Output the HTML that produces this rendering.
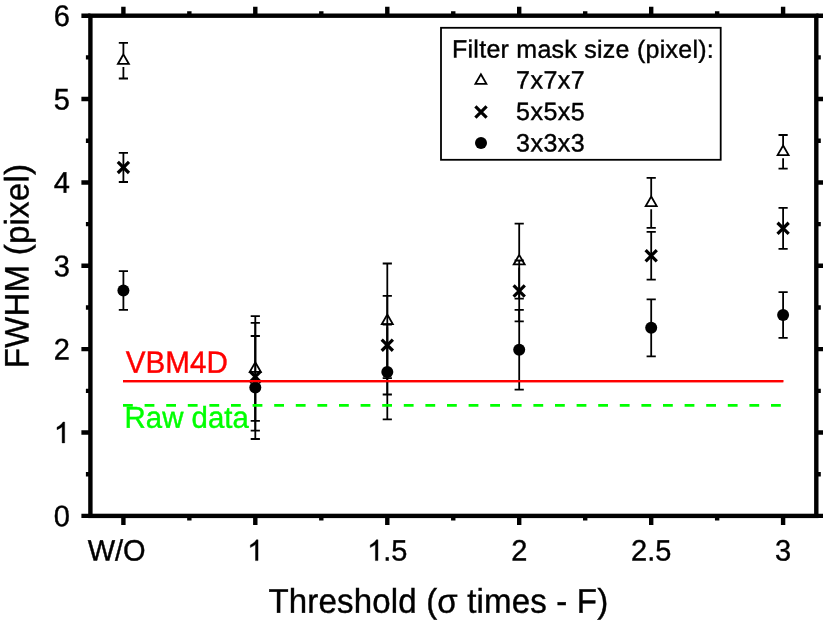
<!DOCTYPE html>
<html><head><meta charset="utf-8"><style>
html,body{margin:0;padding:0;background:#fff;width:823px;height:624px;overflow:hidden}
svg{display:block;will-change:transform}
text{font-family:"Liberation Sans",sans-serif;fill:#000}
</style></head><body>
<svg width="823" height="624" viewBox="0 0 823 624">
<rect width="823" height="624" fill="#fff"/>
<rect x="90.4" y="15.7" width="725.90" height="500.20" fill="none" stroke="#000" stroke-width="4.4"/>
<path d="M123.40,15.70 V6.70 M123.40,515.90 V524.90 M189.35,15.70 V11.20 M189.35,515.90 V520.40 M255.30,15.70 V6.70 M255.30,515.90 V524.90 M321.30,15.70 V11.20 M321.30,515.90 V520.40 M387.30,15.70 V6.70 M387.30,515.90 V524.90 M453.25,15.70 V11.20 M453.25,515.90 V520.40 M519.20,15.70 V6.70 M519.20,515.90 V524.90 M585.20,15.70 V11.20 M585.20,515.90 V520.40 M651.20,15.70 V6.70 M651.20,515.90 V524.90 M717.15,15.70 V11.20 M717.15,515.90 V520.40 M783.10,15.70 V6.70 M783.10,515.90 V524.90 M90.40,515.90 H81.40 M816.30,515.90 H825.30 M90.40,474.22 H85.90 M816.30,474.22 H820.80 M90.40,432.53 H81.40 M816.30,432.53 H825.30 M90.40,390.85 H85.90 M816.30,390.85 H820.80 M90.40,349.17 H81.40 M816.30,349.17 H825.30 M90.40,307.48 H85.90 M816.30,307.48 H820.80 M90.40,265.80 H81.40 M816.30,265.80 H825.30 M90.40,224.12 H85.90 M816.30,224.12 H820.80 M90.40,182.43 H81.40 M816.30,182.43 H825.30 M90.40,140.75 H85.90 M816.30,140.75 H820.80 M90.40,99.07 H81.40 M816.30,99.07 H825.30 M90.40,57.38 H85.90 M816.30,57.38 H820.80 M90.40,15.70 H81.40 M816.30,15.70 H825.30" stroke="#000" stroke-width="4.4" fill="none"/>
<path d="M123.0,381.2 H783.3" stroke="#f00" stroke-width="2.2" fill="none"/>
<text transform="translate(70.00,526.25) rotate(0.03) scale(1,1.03)" font-size="29" text-anchor="end" style="fill:#000;stroke:#000;stroke-width:0.4">0</text>
<path transform="translate(53.87,442.88) scale(0.01416,-0.01416)" d="M763,0 L583,0 L583,1147 Q518,1085 412,1023 Q306,961 222,930 L222,1104 Q373,1175 486,1276 Q599,1377 646,1472 L763,1472 Z" style="fill:#000;stroke:#000;stroke-width:28.2"/>
<text transform="translate(70.00,359.52) rotate(0.03) scale(1,1.03)" font-size="29" text-anchor="end" style="fill:#000;stroke:#000;stroke-width:0.4">2</text>
<text transform="translate(70.00,276.15) rotate(0.03) scale(1,1.03)" font-size="29" text-anchor="end" style="fill:#000;stroke:#000;stroke-width:0.4">3</text>
<text transform="translate(70.00,192.78) rotate(0.03) scale(1,1.03)" font-size="29" text-anchor="end" style="fill:#000;stroke:#000;stroke-width:0.4">4</text>
<text transform="translate(70.00,109.42) rotate(0.03) scale(1,1.03)" font-size="29" text-anchor="end" style="fill:#000;stroke:#000;stroke-width:0.4">5</text>
<text transform="translate(70.00,26.05) rotate(0.03) scale(1,1.03)" font-size="29" text-anchor="end" style="fill:#000;stroke:#000;stroke-width:0.4">6</text>
<text transform="translate(87.70,560.60) rotate(0.03) scale(1,1.015)" font-size="29" style="fill:#000;stroke:#000;stroke-width:0.4">W/O</text>
<path transform="translate(247.24,560.60) scale(0.01416,-0.01416)" d="M763,0 L583,0 L583,1147 Q518,1085 412,1023 Q306,961 222,930 L222,1104 Q373,1175 486,1276 Q599,1377 646,1472 L763,1472 Z" style="fill:#000;stroke:#000;stroke-width:28.2"/>
<path transform="translate(367.14,560.60) scale(0.01416,-0.01416)" d="M763,0 L583,0 L583,1147 Q518,1085 412,1023 Q306,961 222,930 L222,1104 Q373,1175 486,1276 Q599,1377 646,1472 L763,1472 Z" style="fill:#000;stroke:#000;stroke-width:28.2"/>
<text transform="translate(383.27,560.60) rotate(0.03) scale(1,1.015)" font-size="29" style="fill:#000;stroke:#000;stroke-width:0.4">.5</text>
<text transform="translate(519.20,560.60) rotate(0.03) scale(1,1.015)" font-size="29" text-anchor="middle" style="fill:#000;stroke:#000;stroke-width:0.4">2</text>
<text transform="translate(651.20,560.60) rotate(0.03) scale(1,1.015)" font-size="29" text-anchor="middle" style="fill:#000;stroke:#000;stroke-width:0.4">2.5</text>
<text transform="translate(783.10,560.60) rotate(0.03) scale(1,1.015)" font-size="29" text-anchor="middle" style="fill:#000;stroke:#000;stroke-width:0.4">3</text>
<text transform="translate(268.50,612.70) rotate(0.03) scale(1,1.04)" font-size="33" textLength="339.7" lengthAdjust="spacing" style="fill:#000;stroke:#000;stroke-width:0.4">Threshold (&#963; times - F)</text>
<text transform="translate(28.50,368.30) rotate(-89.97) scale(1,1.03)" font-size="33" textLength="204.3" lengthAdjust="spacing" style="fill:#000;stroke:#000;stroke-width:0.4">FWHM (pixel)</text>
<text transform="translate(125.80,372.70) rotate(0.03) scale(1,1.04)" font-size="29.6" style="fill:#f00;stroke:#f00;stroke-width:0.4">VBM4D</text>
<text transform="translate(124.60,427.80) rotate(0.03) scale(1,1.025)" font-size="29.4" style="fill:#0f0;stroke:#0f0;stroke-width:0.4">Raw data</text>
<path d="M123.40,42.80 V54.25 M123.40,67.05 V78.50" stroke="#000" stroke-width="1.8" fill="none"/><path d="M118.80,42.80 H128.00 M118.80,78.50 H128.00" stroke="#000" stroke-width="1.8" fill="none"/>
<path d="M123.40,54.35 L128.90,63.95 L117.90,63.95 Z" fill="#fff" stroke="#000" stroke-width="1.8"/>
<path d="M255.30,316.20 V362.10 M255.30,374.90 V420.80" stroke="#000" stroke-width="1.8" fill="none"/><path d="M250.70,316.20 H259.90 M250.70,420.80 H259.90" stroke="#000" stroke-width="1.8" fill="none"/>
<path d="M255.30,362.20 L260.80,371.80 L249.80,371.80 Z" fill="#fff" stroke="#000" stroke-width="1.8"/>
<path d="M387.30,263.50 V314.45 M387.30,327.25 V378.20" stroke="#000" stroke-width="1.8" fill="none"/><path d="M382.70,263.50 H391.90 M382.70,378.20 H391.90" stroke="#000" stroke-width="1.8" fill="none"/>
<path d="M387.30,314.55 L392.80,324.15 L381.80,324.15 Z" fill="#fff" stroke="#000" stroke-width="1.8"/>
<path d="M519.20,223.70 V254.75 M519.20,267.55 V298.60" stroke="#000" stroke-width="1.8" fill="none"/><path d="M514.60,223.70 H523.80 M514.60,298.60 H523.80" stroke="#000" stroke-width="1.8" fill="none"/>
<path d="M519.20,254.85 L524.70,264.45 L513.70,264.45 Z" fill="#fff" stroke="#000" stroke-width="1.8"/>
<path d="M651.20,177.80 V196.40 M651.20,209.20 V227.80" stroke="#000" stroke-width="1.8" fill="none"/><path d="M646.60,177.80 H655.80 M646.60,227.80 H655.80" stroke="#000" stroke-width="1.8" fill="none"/>
<path d="M651.20,196.50 L656.70,206.10 L645.70,206.10 Z" fill="#fff" stroke="#000" stroke-width="1.8"/>
<path d="M783.10,135.00 V145.45 M783.10,158.25 V168.70" stroke="#000" stroke-width="1.8" fill="none"/><path d="M778.50,135.00 H787.70 M778.50,168.70 H787.70" stroke="#000" stroke-width="1.8" fill="none"/>
<path d="M783.10,145.55 L788.60,155.15 L777.60,155.15 Z" fill="#fff" stroke="#000" stroke-width="1.8"/>
<path d="M123.40,152.80 V182.00" stroke="#000" stroke-width="1.8" fill="none"/><path d="M118.80,152.80 H128.00 M118.80,182.00 H128.00" stroke="#000" stroke-width="1.8" fill="none"/>
<path d="M117.80,161.80 L129.00,173.00 M129.00,161.80 L117.80,173.00" stroke="#000" stroke-width="3.2" fill="none"/>
<path d="M255.30,322.90 V430.60" stroke="#000" stroke-width="1.8" fill="none"/><path d="M250.70,322.90 H259.90 M250.70,430.60 H259.90" stroke="#000" stroke-width="1.8" fill="none"/>
<path d="M249.70,371.15 L260.90,382.35 M260.90,371.15 L249.70,382.35" stroke="#000" stroke-width="3.2" fill="none"/>
<path d="M387.30,295.80 V394.50" stroke="#000" stroke-width="1.8" fill="none"/><path d="M382.70,295.80 H391.90 M382.70,394.50 H391.90" stroke="#000" stroke-width="1.8" fill="none"/>
<path d="M381.70,339.55 L392.90,350.75 M392.90,339.55 L381.70,350.75" stroke="#000" stroke-width="3.2" fill="none"/>
<path d="M519.20,260.50 V321.40" stroke="#000" stroke-width="1.8" fill="none"/><path d="M514.60,260.50 H523.80 M514.60,321.40 H523.80" stroke="#000" stroke-width="1.8" fill="none"/>
<path d="M513.60,285.35 L524.80,296.55 M524.80,285.35 L513.60,296.55" stroke="#000" stroke-width="3.2" fill="none"/>
<path d="M651.20,231.80 V279.70" stroke="#000" stroke-width="1.8" fill="none"/><path d="M646.60,231.80 H655.80 M646.60,279.70 H655.80" stroke="#000" stroke-width="1.8" fill="none"/>
<path d="M645.60,250.15 L656.80,261.35 M656.80,250.15 L645.60,261.35" stroke="#000" stroke-width="3.2" fill="none"/>
<path d="M783.10,207.90 V248.80" stroke="#000" stroke-width="1.8" fill="none"/><path d="M778.50,207.90 H787.70 M778.50,248.80 H787.70" stroke="#000" stroke-width="1.8" fill="none"/>
<path d="M777.50,222.75 L788.70,233.95 M788.70,222.75 L777.50,233.95" stroke="#000" stroke-width="3.2" fill="none"/>
<path d="M123.40,271.20 V309.80" stroke="#000" stroke-width="1.8" fill="none"/><path d="M118.80,271.20 H128.00 M118.80,309.80 H128.00" stroke="#000" stroke-width="1.8" fill="none"/>
<circle cx="123.40" cy="290.50" r="6.0" fill="#000"/>
<path d="M255.30,336.00 V439.00" stroke="#000" stroke-width="1.8" fill="none"/><path d="M250.70,336.00 H259.90 M250.70,439.00 H259.90" stroke="#000" stroke-width="1.8" fill="none"/>
<circle cx="255.30" cy="387.50" r="6.0" fill="#000"/>
<path d="M387.30,324.50 V419.40" stroke="#000" stroke-width="1.8" fill="none"/><path d="M382.70,324.50 H391.90 M382.70,419.40 H391.90" stroke="#000" stroke-width="1.8" fill="none"/>
<circle cx="387.30" cy="371.95" r="6.0" fill="#000"/>
<path d="M519.20,309.80 V389.60" stroke="#000" stroke-width="1.8" fill="none"/><path d="M514.60,309.80 H523.80 M514.60,389.60 H523.80" stroke="#000" stroke-width="1.8" fill="none"/>
<circle cx="519.20" cy="349.70" r="6.0" fill="#000"/>
<path d="M651.20,299.40 V356.30" stroke="#000" stroke-width="1.8" fill="none"/><path d="M646.60,299.40 H655.80 M646.60,356.30 H655.80" stroke="#000" stroke-width="1.8" fill="none"/>
<circle cx="651.20" cy="327.85" r="6.0" fill="#000"/>
<path d="M783.10,292.20 V337.90" stroke="#000" stroke-width="1.8" fill="none"/><path d="M778.50,292.20 H787.70 M778.50,337.90 H787.70" stroke="#000" stroke-width="1.8" fill="none"/>
<circle cx="783.10" cy="315.05" r="6.0" fill="#000"/>
<path d="M123.0,405.4 H783.2" stroke="#0f0" stroke-width="2.8" stroke-dasharray="9.8 11.8" fill="none"/>
<path d="M123.0,381.2 H783.3" stroke="#f00" stroke-width="2.2" fill="none"/>
<rect x="441" y="27.8" width="279.7" height="132" fill="#fff" stroke="#000" stroke-width="1.8"/>
<path d="M480.90,74.20 L486.40,83.80 L475.40,83.80 Z" fill="#fff" stroke="#000" stroke-width="1.8"/>
<path d="M475.40,106.40 L486.60,117.60 M486.60,106.40 L475.40,117.60" stroke="#000" stroke-width="3.2" fill="none"/>
<circle cx="481.00" cy="143.00" r="6.0" fill="#000"/>
<text transform="translate(452.00,57.60) rotate(0.03)" font-size="25" textLength="261.8" lengthAdjust="spacing" style="fill:#000;stroke:#000;stroke-width:0.4">Filter mask size (pixel):</text>
<text transform="translate(516.00,88.50) rotate(0.03)" font-size="25" textLength="68.7" lengthAdjust="spacing" style="fill:#000;stroke:#000;stroke-width:0.4">7x7x7</text>
<text transform="translate(516.00,120.10) rotate(0.03)" font-size="25" textLength="68.7" lengthAdjust="spacing" style="fill:#000;stroke:#000;stroke-width:0.4">5x5x5</text>
<text transform="translate(516.00,151.50) rotate(0.03)" font-size="25" textLength="68.7" lengthAdjust="spacing" style="fill:#000;stroke:#000;stroke-width:0.4">3x3x3</text>
</svg>
</body></html>
